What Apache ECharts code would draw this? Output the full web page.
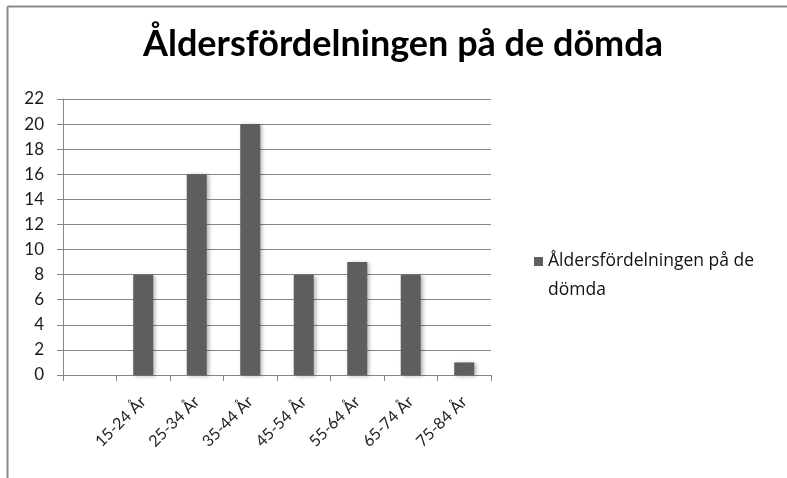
<!DOCTYPE html>
<html>
<head>
<meta charset="utf-8">
<script src="https://cdn.jsdelivr.net/npm/echarts@6/dist/echarts.min.js"></script>
<style>
html,body{margin:0;padding:0;background:#fff;}
#c{width:787px;height:478px;}
</style>
</head>
<body>
<div id="c"></div>
<script>
const titleText = 'Åldersfördelningen på de dömda';
const seriesName = 'Åldersfördelningen på de dömda';
const legendLines = ['Åldersfördelningen på de', 'dömda'];
const categories = ['', '15-24 År', '25-34 År', '35-44 År', '45-54 År', '55-64 År', '65-74 År', '75-84 År'];
const values = [null, 8, 16, 20, 8, 9, 8, 1];
const yTicks = { min: 0, max: 22, interval: 2 };

const chart = echarts.init(document.getElementById('c'), null, { renderer: 'canvas' });
const font = 'Lato, "Open Sans", sans-serif';
chart.setOption({
  backgroundColor: '#fff',
  animation: false,
  title: {
    text: titleText,
    left: 398, textAlign: 'center',
    top: 21,
    textStyle: { fontFamily: font, fontWeight: 'bold', fontSize: 36, color: '#000' }
  },
  legend: {
    show: true,
    left: 529, top: 213,
    orient: 'vertical',
    icon: 'rect',
    itemWidth: 9, itemHeight: 9, itemGap: 6,
    formatter: function () { return '\n' + legendLines.join('\n'); },
    textStyle: { fontFamily: '"Open Sans", sans-serif', fontSize: 17.5, color: '#111', lineHeight: 29 },
    data: [seriesName]
  },
  grid: { left: 63, right: 296, top: 99, bottom: 103, containLabel: false },
  xAxis: {
    type: 'category',
    data: categories,
    axisLine: { show: true, lineStyle: { color: '#868686', width: 1 } },
    axisTick: { show: true, length: 6, lineStyle: { color: '#868686' } },
    axisLabel: { rotate: 45, margin: 24, fontFamily: font, fontSize: 16, color: '#222', interval: 0 },
    splitLine: { show: false }
  },
  yAxis: {
    type: 'value',
    min: yTicks.min, max: yTicks.max, interval: yTicks.interval,
    axisLine: { show: true, lineStyle: { color: '#868686', width: 1 } },
    axisTick: { show: true, length: 6, lineStyle: { color: '#868686' } },
    axisLabel: { margin: 19, fontFamily: font, fontSize: 17, color: '#1a1a1a' },
    splitLine: { show: true, lineStyle: { color: '#868686', width: 1 } }
  },
  series: [{
    name: seriesName,
    type: 'bar',
    data: values,
    barWidth: 20,
    itemStyle: {
      color: '#5e5e5e',
      shadowBlur: 4, shadowColor: 'rgba(0,0,0,0.3)', shadowOffsetX: 2, shadowOffsetY: 1
    }
  }],
  graphic: [
    { type: 'line', shape: { x1: 7.5, y1: 6.5, x2: 787, y2: 6.5 }, style: { stroke: '#8c8c8c', lineWidth: 2 } },
    { type: 'line', shape: { x1: 7.5, y1: 6.5, x2: 7.5, y2: 478 }, style: { stroke: '#8c8c8c', lineWidth: 2 } }
  ]
});
</script>
</body>
</html>
